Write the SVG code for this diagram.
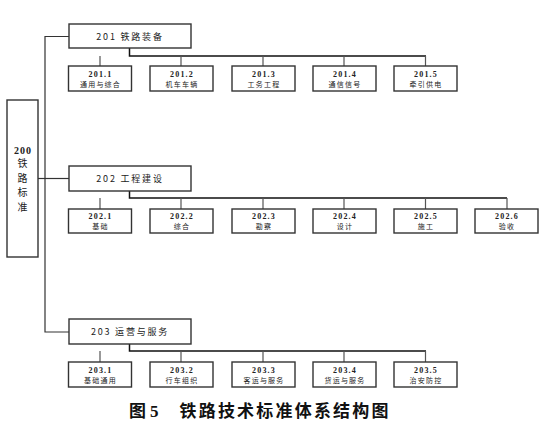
<svg xmlns="http://www.w3.org/2000/svg" width="546" height="425" viewBox="0 0 546 425">
<style>
.box{fill:#fff;stroke:#333;stroke-width:1.4}
.t{font-family:"Noto Sans CJK SC",sans-serif;fill:#222;text-anchor:middle}
.n{font-family:"Liberation Serif","Noto Sans CJK SC",serif;font-weight:bold;fill:#222;text-anchor:middle}
.h{font-size:9px;letter-spacing:1.8px}
.c{font-size:7px;letter-spacing:1.2px}
.d{font-size:8px;letter-spacing:1.2px}
.v{font-size:10px}
.bus{stroke:#111;stroke-width:1.5;fill:none}
.drop{stroke:#555;stroke-width:1.2;fill:none}
.trunk{stroke:#333;stroke-width:1.2;fill:none}
</style>
<rect width="546" height="425" fill="#fff"/>
<g id="connectors">
<path class="trunk" d="M69 36.5H45V332H69"/>
<path class="trunk" d="M38 178.5H69"/>
<path class="bus" d="M129.5 48V56H426"/>
<path class="drop" d="M100 56V66M181 56V66M263 56V66M344 56V66M425.5 56V66"/>
<path class="bus" d="M129.5 191V198H507"/>
<path class="drop" d="M100 198V209M181 198V209M263 198V209M344 198V209M425.5 198V209M507 198V209"/>
<path class="bus" d="M129.5 344V351H426"/>
<path class="drop" d="M100 351V362M181 351V362M263 351V362M344 351V362M425.5 351V362"/>
</g>
<g id="n200"><rect class="box" x="7" y="100" width="31" height="157"/>
<text class="n" x="23" y="154" font-size="10" letter-spacing="1">200</text>
<text class="t v" x="22.5" y="167">铁</text>
<text class="t v" x="22.5" y="181.5">路</text>
<text class="t v" x="22.5" y="196">标</text>
<text class="t v" x="22.5" y="210.5">准</text></g>
<g id="n201"><rect class="box" x="69" y="24" width="122" height="24"/><text class="t h" x="130" y="39.5">201 铁路装备</text></g>
<g id="n202"><rect class="box" x="69" y="166" width="122" height="25"/><text class="t h" x="130" y="181.5">202 工程建设</text></g>
<g id="n203"><rect class="box" x="69" y="319" width="122" height="25"/><text class="t h" x="130" y="334.5">203 运营与服务</text></g>
<g id="n201_1"><rect class="box" x="68.5" y="66" width="63" height="25"/><text class="n d" x="100.5" y="76.5">201.1</text><text class="t c" x="100.5" y="87">通用与综合</text></g>
<g id="n201_2"><rect class="box" x="150" y="66" width="63" height="25"/><text class="n d" x="182" y="76.5">201.2</text><text class="t c" x="182" y="87">机车车辆</text></g>
<g id="n201_3"><rect class="box" x="232" y="66" width="63" height="25"/><text class="n d" x="264" y="76.5">201.3</text><text class="t c" x="264" y="87">工务工程</text></g>
<g id="n201_4"><rect class="box" x="313" y="66" width="63" height="25"/><text class="n d" x="345" y="76.5">201.4</text><text class="t c" x="345" y="87">通信信号</text></g>
<g id="n201_5"><rect class="box" x="394" y="66" width="63" height="25"/><text class="n d" x="426" y="76.5">201.5</text><text class="t c" x="426" y="87">牵引供电</text></g>
<g id="n202_1"><rect class="box" x="68.5" y="209" width="63" height="24"/><text class="n d" x="100.5" y="219">202.1</text><text class="t c" x="100.5" y="229">基础</text></g>
<g id="n202_2"><rect class="box" x="150" y="209" width="63" height="24"/><text class="n d" x="182" y="219">202.2</text><text class="t c" x="182" y="229">综合</text></g>
<g id="n202_3"><rect class="box" x="232" y="209" width="63" height="24"/><text class="n d" x="264" y="219">202.3</text><text class="t c" x="264" y="229">勘察</text></g>
<g id="n202_4"><rect class="box" x="313" y="209" width="63" height="24"/><text class="n d" x="345" y="219">202.4</text><text class="t c" x="345" y="229">设计</text></g>
<g id="n202_5"><rect class="box" x="394" y="209" width="63" height="24"/><text class="n d" x="426" y="219">202.5</text><text class="t c" x="426" y="229">施工</text></g>
<g id="n202_6"><rect class="box" x="475" y="209" width="63" height="24"/><text class="n d" x="507" y="219">202.6</text><text class="t c" x="507" y="229">验收</text></g>
<g id="n203_1"><rect class="box" x="68.5" y="362" width="63" height="25"/><text class="n d" x="100.5" y="372.5">203.1</text><text class="t c" x="100.5" y="383">基础通用</text></g>
<g id="n203_2"><rect class="box" x="150" y="362" width="63" height="25"/><text class="n d" x="182" y="372.5">203.2</text><text class="t c" x="182" y="383">行车组织</text></g>
<g id="n203_3"><rect class="box" x="232" y="362" width="63" height="25"/><text class="n d" x="264" y="372.5">203.3</text><text class="t c" x="264" y="383">客运与服务</text></g>
<g id="n203_4"><rect class="box" x="313" y="362" width="63" height="25"/><text class="n d" x="345" y="372.5">203.4</text><text class="t c" x="345" y="383">货运与服务</text></g>
<g id="n203_5"><rect class="box" x="394" y="362" width="63" height="25"/><text class="n d" x="426" y="372.5">203.5</text><text class="t c" x="426" y="383">治安防控</text></g>
<text x="129" y="417" font-family="Noto Sans CJK SC,sans-serif" font-weight="bold" font-size="17" fill="#111">图<tspan dx="4" font-family="Liberation Serif,serif">5</tspan><tspan dx="21" letter-spacing="2.2">铁路技术标准体系结构图</tspan></text>
</svg>
